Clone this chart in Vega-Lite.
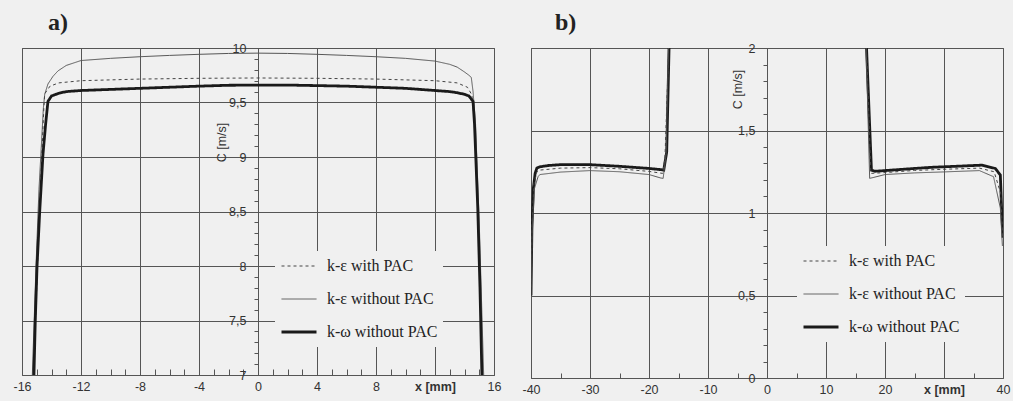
{
  "$schema": "https://vega.github.io/schema/vega-lite/v6.json",
  "background": "#f0f0f0",
  "padding": {"left": 12, "top": 10, "right": 5, "bottom": 5},
  "spacing": 37,
  "bounds": "flush",
  "resolve": {
    "scale": {"color": "independent", "strokeDash": "independent", "strokeWidth": "independent"},
    "legend": {"color": "independent", "strokeDash": "independent", "strokeWidth": "independent"}
  },
  "datasets": {
    "a": [
      {"x": -15.3, "c": 7.0, "m": "k-ε without PAC"}, {"x": -15.05, "c": 8.0, "m": "k-ε without PAC"}, {"x": -14.85, "c": 8.7, "m": "k-ε without PAC"}, {"x": -14.65, "c": 9.2, "m": "k-ε without PAC"}, {"x": -14.55, "c": 9.45, "m": "k-ε without PAC"}, {"x": -14.46, "c": 9.575, "m": "k-ε without PAC"}, {"x": -14.24, "c": 9.67, "m": "k-ε without PAC"}, {"x": -13.9, "c": 9.74, "m": "k-ε without PAC"}, {"x": -13.56, "c": 9.79, "m": "k-ε without PAC"}, {"x": -13, "c": 9.84, "m": "k-ε without PAC"}, {"x": -12, "c": 9.885, "m": "k-ε without PAC"}, {"x": -10, "c": 9.905, "m": "k-ε without PAC"}, {"x": -8, "c": 9.92, "m": "k-ε without PAC"}, {"x": -6, "c": 9.932, "m": "k-ε without PAC"}, {"x": -4, "c": 9.942, "m": "k-ε without PAC"}, {"x": -2, "c": 9.95, "m": "k-ε without PAC"}, {"x": 0, "c": 9.953, "m": "k-ε without PAC"}, {"x": 2, "c": 9.95, "m": "k-ε without PAC"}, {"x": 4, "c": 9.942, "m": "k-ε without PAC"}, {"x": 6, "c": 9.932, "m": "k-ε without PAC"}, {"x": 8, "c": 9.92, "m": "k-ε without PAC"}, {"x": 10, "c": 9.905, "m": "k-ε without PAC"}, {"x": 12, "c": 9.88, "m": "k-ε without PAC"}, {"x": 13, "c": 9.85, "m": "k-ε without PAC"}, {"x": 13.5, "c": 9.825, "m": "k-ε without PAC"}, {"x": 14, "c": 9.78, "m": "k-ε without PAC"}, {"x": 14.3, "c": 9.75, "m": "k-ε without PAC"}, {"x": 14.46, "c": 9.73, "m": "k-ε without PAC"}, {"x": 14.58, "c": 9.6, "m": "k-ε without PAC"}, {"x": 14.75, "c": 9.3, "m": "k-ε without PAC"}, {"x": 15.0, "c": 8.4, "m": "k-ε without PAC"}, {"x": 15.3, "c": 7.0, "m": "k-ε without PAC"},
      {"x": -15.22, "c": 7.0, "m": "k-ε with PAC"}, {"x": -14.95, "c": 8.0, "m": "k-ε with PAC"}, {"x": -14.75, "c": 8.7, "m": "k-ε with PAC"}, {"x": -14.6, "c": 9.2, "m": "k-ε with PAC"}, {"x": -14.52, "c": 9.45, "m": "k-ε with PAC"}, {"x": -14.46, "c": 9.58, "m": "k-ε with PAC"}, {"x": -14.1, "c": 9.65, "m": "k-ε with PAC"}, {"x": -13.5, "c": 9.68, "m": "k-ε with PAC"}, {"x": -12, "c": 9.7, "m": "k-ε with PAC"}, {"x": -8, "c": 9.715, "m": "k-ε with PAC"}, {"x": -4, "c": 9.722, "m": "k-ε with PAC"}, {"x": 0, "c": 9.725, "m": "k-ε with PAC"}, {"x": 4, "c": 9.722, "m": "k-ε with PAC"}, {"x": 8, "c": 9.715, "m": "k-ε with PAC"}, {"x": 12, "c": 9.7, "m": "k-ε with PAC"}, {"x": 13.5, "c": 9.68, "m": "k-ε with PAC"}, {"x": 14.2, "c": 9.64, "m": "k-ε with PAC"}, {"x": 14.5, "c": 9.57, "m": "k-ε with PAC"}, {"x": 14.65, "c": 9.35, "m": "k-ε with PAC"}, {"x": 14.9, "c": 8.6, "m": "k-ε with PAC"}, {"x": 15.2, "c": 7.0, "m": "k-ε with PAC"},
      {"x": -15.19, "c": 7.0, "m": "k-ω without PAC"}, {"x": -15.1, "c": 7.5, "m": "k-ω without PAC"}, {"x": -14.98, "c": 8.0, "m": "k-ω without PAC"}, {"x": -14.8, "c": 8.5, "m": "k-ω without PAC"}, {"x": -14.58, "c": 9.02, "m": "k-ω without PAC"}, {"x": -14.4, "c": 9.3, "m": "k-ω without PAC"}, {"x": -14.24, "c": 9.51, "m": "k-ω without PAC"}, {"x": -14.0, "c": 9.56, "m": "k-ω without PAC"}, {"x": -13.5, "c": 9.585, "m": "k-ω without PAC"}, {"x": -13, "c": 9.6, "m": "k-ω without PAC"}, {"x": -12, "c": 9.61, "m": "k-ω without PAC"}, {"x": -10, "c": 9.62, "m": "k-ω without PAC"}, {"x": -8, "c": 9.63, "m": "k-ω without PAC"}, {"x": -6, "c": 9.64, "m": "k-ω without PAC"}, {"x": -4, "c": 9.65, "m": "k-ω without PAC"}, {"x": -2, "c": 9.658, "m": "k-ω without PAC"}, {"x": 0, "c": 9.66, "m": "k-ω without PAC"}, {"x": 2, "c": 9.66, "m": "k-ω without PAC"}, {"x": 4, "c": 9.655, "m": "k-ω without PAC"}, {"x": 6, "c": 9.65, "m": "k-ω without PAC"}, {"x": 8, "c": 9.64, "m": "k-ω without PAC"}, {"x": 10, "c": 9.63, "m": "k-ω without PAC"}, {"x": 12, "c": 9.61, "m": "k-ω without PAC"}, {"x": 13, "c": 9.6, "m": "k-ω without PAC"}, {"x": 13.5, "c": 9.59, "m": "k-ω without PAC"}, {"x": 14, "c": 9.575, "m": "k-ω without PAC"}, {"x": 14.3, "c": 9.56, "m": "k-ω without PAC"}, {"x": 14.58, "c": 9.51, "m": "k-ω without PAC"}, {"x": 14.68, "c": 9.3, "m": "k-ω without PAC"}, {"x": 14.9, "c": 8.53, "m": "k-ω without PAC"}, {"x": 15.05, "c": 7.8, "m": "k-ω without PAC"}, {"x": 15.18, "c": 7.0, "m": "k-ω without PAC"}
    ],
    "b": [
      {"x": -40, "c": 0.5, "m": "k-ω without PAC", "s": "L"}, {"x": -39.85, "c": 0.9, "m": "k-ω without PAC", "s": "L"}, {"x": -39.6, "c": 1.15, "m": "k-ω without PAC", "s": "L"}, {"x": -39.3, "c": 1.24, "m": "k-ω without PAC", "s": "L"}, {"x": -39.0, "c": 1.273, "m": "k-ω without PAC", "s": "L"}, {"x": -38.5, "c": 1.28, "m": "k-ω without PAC", "s": "L"}, {"x": -37, "c": 1.288, "m": "k-ω without PAC", "s": "L"}, {"x": -35, "c": 1.293, "m": "k-ω without PAC", "s": "L"}, {"x": -30, "c": 1.293, "m": "k-ω without PAC", "s": "L"}, {"x": -25, "c": 1.283, "m": "k-ω without PAC", "s": "L"}, {"x": -20, "c": 1.27, "m": "k-ω without PAC", "s": "L"}, {"x": -17.8, "c": 1.262, "m": "k-ω without PAC", "s": "L"}, {"x": -17.5, "c": 1.26, "m": "k-ω without PAC", "s": "L"}, {"x": -17.0, "c": 1.37, "m": "k-ω without PAC", "s": "L"}, {"x": -16.6, "c": 2.0, "m": "k-ω without PAC", "s": "L"},
      {"x": 16.87, "c": 2.0, "m": "k-ω without PAC", "s": "R"}, {"x": 17.7, "c": 1.26, "m": "k-ω without PAC", "s": "R"}, {"x": 18.3, "c": 1.253, "m": "k-ω without PAC", "s": "R"}, {"x": 20, "c": 1.257, "m": "k-ω without PAC", "s": "R"}, {"x": 25, "c": 1.27, "m": "k-ω without PAC", "s": "R"}, {"x": 28, "c": 1.277, "m": "k-ω without PAC", "s": "R"}, {"x": 32, "c": 1.283, "m": "k-ω without PAC", "s": "R"}, {"x": 36.4, "c": 1.29, "m": "k-ω without PAC", "s": "R"}, {"x": 38.7, "c": 1.27, "m": "k-ω without PAC", "s": "R"}, {"x": 39.55, "c": 1.23, "m": "k-ω without PAC", "s": "R"}, {"x": 39.8, "c": 0.99, "m": "k-ω without PAC", "s": "R"}, {"x": 40, "c": 0.85, "m": "k-ω without PAC", "s": "R"},
      {"x": -40, "c": 0.5, "m": "k-ε without PAC", "s": "L"}, {"x": -39.8, "c": 0.9, "m": "k-ε without PAC", "s": "L"}, {"x": -39.4, "c": 1.15, "m": "k-ε without PAC", "s": "L"}, {"x": -38.8, "c": 1.22, "m": "k-ε without PAC", "s": "L"}, {"x": -38.5, "c": 1.233, "m": "k-ε without PAC", "s": "L"}, {"x": -35, "c": 1.248, "m": "k-ε without PAC", "s": "L"}, {"x": -30, "c": 1.257, "m": "k-ε without PAC", "s": "L"}, {"x": -25, "c": 1.25, "m": "k-ε without PAC", "s": "L"}, {"x": -20, "c": 1.233, "m": "k-ε without PAC", "s": "L"}, {"x": -18, "c": 1.212, "m": "k-ε without PAC", "s": "L"}, {"x": -17.6, "c": 1.21, "m": "k-ε without PAC", "s": "L"}, {"x": -17.1, "c": 1.36, "m": "k-ε without PAC", "s": "L"}, {"x": -16.7, "c": 2.0, "m": "k-ε without PAC", "s": "L"},
      {"x": 16.8, "c": 2.0, "m": "k-ε without PAC", "s": "R"}, {"x": 17.4, "c": 1.21, "m": "k-ε without PAC", "s": "R"}, {"x": 18, "c": 1.215, "m": "k-ε without PAC", "s": "R"}, {"x": 20, "c": 1.233, "m": "k-ε without PAC", "s": "R"}, {"x": 25, "c": 1.243, "m": "k-ε without PAC", "s": "R"}, {"x": 30, "c": 1.249, "m": "k-ε without PAC", "s": "R"}, {"x": 36, "c": 1.257, "m": "k-ε without PAC", "s": "R"}, {"x": 38.4, "c": 1.22, "m": "k-ε without PAC", "s": "R"}, {"x": 39.55, "c": 1.03, "m": "k-ε without PAC", "s": "R"}, {"x": 39.9, "c": 0.8, "m": "k-ε without PAC", "s": "R"},
      {"x": -40, "c": 0.55, "m": "k-ε with PAC", "s": "L"}, {"x": -39.8, "c": 0.95, "m": "k-ε with PAC", "s": "L"}, {"x": -39.5, "c": 1.18, "m": "k-ε with PAC", "s": "L"}, {"x": -39, "c": 1.25, "m": "k-ε with PAC", "s": "L"}, {"x": -38.5, "c": 1.26, "m": "k-ε with PAC", "s": "L"}, {"x": -35, "c": 1.272, "m": "k-ε with PAC", "s": "L"}, {"x": -30, "c": 1.275, "m": "k-ε with PAC", "s": "L"}, {"x": -25, "c": 1.268, "m": "k-ε with PAC", "s": "L"}, {"x": -20, "c": 1.252, "m": "k-ε with PAC", "s": "L"}, {"x": -17.7, "c": 1.24, "m": "k-ε with PAC", "s": "L"}, {"x": -17.3, "c": 1.33, "m": "k-ε with PAC", "s": "L"}, {"x": -16.65, "c": 2.0, "m": "k-ε with PAC", "s": "L"},
      {"x": 16.85, "c": 2.0, "m": "k-ε with PAC", "s": "R"}, {"x": 17.6, "c": 1.24, "m": "k-ε with PAC", "s": "R"}, {"x": 20, "c": 1.245, "m": "k-ε with PAC", "s": "R"}, {"x": 25, "c": 1.258, "m": "k-ε with PAC", "s": "R"}, {"x": 30, "c": 1.265, "m": "k-ε with PAC", "s": "R"}, {"x": 36, "c": 1.272, "m": "k-ε with PAC", "s": "R"}, {"x": 38.5, "c": 1.25, "m": "k-ε with PAC", "s": "R"}, {"x": 39.6, "c": 1.12, "m": "k-ε with PAC", "s": "R"}, {"x": 39.95, "c": 0.85, "m": "k-ε with PAC", "s": "R"}
    ]
  },
  "config": {
    "view": {"stroke": "#555555", "strokeWidth": 1, "fill": "#f0f0f0"},
    "axis": {
      "labelFont": "Liberation Sans", "labelFontSize": 12.5, "labelColor": "#333333",
      "titleFont": "Liberation Sans", "titleFontSize": 12.5, "titleFontWeight": "normal", "titleColor": "#333333",
      "gridColor": "#555555", "gridOpacity": 1, "gridWidth": 1,
      "domainColor": "#555555", "tickColor": "#555555"
    },
    "legend": {
      "labelFont": "Liberation Serif", "labelFontSize": 16, "labelColor": "#222222",
      "symbolType": "stroke", "symbolSize": 1225, "labelOffset": 9, "rowPadding": 13, "clipHeight": 20,
      "fillColor": "#f0f0f0", "padding": 5, "direction": "vertical"
    },
    "title": {"font": "Liberation Serif", "fontSize": 24, "fontWeight": "bold", "anchor": "start", "color": "#222222"}
  },
  "hconcat": [
    {
      "title": {"text": "a)", "dx": 35, "offset": 7},
      "width": 472, "height": 327,
      "data": {"name": "a"},
      "layer": [
        {
          "mark": {"type": "line", "clip": true},
          "encoding": {
            "x": {"field": "x", "type": "quantitative", "scale": {"domain": [-16, 16], "nice": false, "zero": false},
              "axis": {"values": [-16, -12, -8, -4, 0, 4, 8, 12, 16], "title": null, "grid": true, "ticks": false, "domain": false, "labelPadding": 5, "labelFlush": false,
                "labelExpr": "datum.value == 12 ? 'x [mm]' : '' + datum.value",
                "labelFontWeight": {"condition": {"test": "datum.value == 12", "value": "bold"}, "value": "normal"}}},
            "y": {"field": "c", "type": "quantitative", "scale": {"domain": [7, 10], "nice": false, "zero": false},
              "axis": {"values": [7, 7.5, 8, 8.5, 9, 9.5, 10], "title": "C [m/s]", "offset": -236, "grid": true, "ticks": false, "labelPadding": 12,
                "labelExpr": "replace('' + datum.value, '.', ',')", "titleX": -37, "titleY": 94, "titleBaseline": "middle", "titleAlign": "center"}},
            "color": {"field": "m", "type": "nominal", "scale": {"domain": ["k-ε with PAC", "k-ε without PAC", "k-ω without PAC"], "range": ["#444444", "#555555", "#1a1a1a"]},
              "legend": {"title": null, "orient": "none", "legendX": 253, "legendY": 203}},
            "strokeDash": {"field": "m", "type": "nominal", "scale": {"domain": ["k-ε with PAC", "k-ε without PAC", "k-ω without PAC"], "range": [[3, 3], [1, 0], [1, 0]]},
              "legend": {"title": null, "orient": "none", "legendX": 253, "legendY": 203}},
            "strokeWidth": {"field": "m", "type": "nominal", "scale": {"type": "ordinal", "domain": ["k-ε with PAC", "k-ε without PAC", "k-ω without PAC"], "range": [1, 1, 2.8]},
              "legend": {"title": null, "orient": "none", "legendX": 253, "legendY": 203}}
          }
        },
        {
          "mark": {"type": "line", "opacity": 0},
          "encoding": {
            "x": {"field": "x", "type": "quantitative",
              "axis": {"orient": "bottom", "values": [-15, -14, -13, -11, -10, -9, -7, -6, -5, -3, -2, -1, 1, 2, 3, 5, 6, 7, 9, 10, 11, 13, 14, 15], "labels": false, "grid": false, "domain": false, "tickSize": -6, "title": null}},
            "y": {"field": "c", "type": "quantitative",
              "axis": {"orient": "left", "offset": -236, "values": [7.1, 7.2, 7.3, 7.4, 7.6, 7.7, 7.8, 7.9, 8.1, 8.2, 8.3, 8.4, 8.6, 8.7, 8.8, 8.9, 9.1, 9.2, 9.3, 9.4, 9.6, 9.7, 9.8, 9.9], "labels": false, "grid": false, "domain": false, "tickSize": 4, "title": null}},
            "detail": {"field": "m"}
          }
        }
      ],
      "resolve": {"axis": {"x": "independent", "y": "independent"}}
    },
    {
      "title": {"text": "b)", "dx": 33, "offset": 7},
      "width": 472, "height": 330,
      "data": {"name": "b"},
      "layer": [
        {
          "mark": {"type": "line", "clip": true},
          "encoding": {
            "x": {"field": "x", "type": "quantitative", "scale": {"domain": [-40, 40], "nice": false, "zero": false},
              "axis": {"values": [-40, -30, -20, -10, 0, 10, 20, 30, 40], "title": null, "grid": true, "ticks": false, "domain": false, "labelPadding": 5, "labelFlush": false,
                "labelExpr": "datum.value == 30 ? 'x [mm]' : '' + datum.value",
                "labelFontWeight": {"condition": {"test": "datum.value == 30", "value": "bold"}, "value": "normal"}}},
            "y": {"field": "c", "type": "quantitative", "scale": {"domain": [0, 2], "nice": false, "zero": false},
              "axis": {"values": [0, 0.5, 1, 1.5, 2], "title": "C [m/s]", "offset": -236, "grid": true, "ticks": false, "labelPadding": 12,
                "labelExpr": "replace('' + datum.value, '.', ',')", "titleX": -30, "titleY": 41, "titleBaseline": "middle", "titleAlign": "center"}},
            "color": {"field": "m", "type": "nominal", "scale": {"domain": ["k-ε with PAC", "k-ε without PAC", "k-ω without PAC"], "range": ["#444444", "#555555", "#1a1a1a"]},
              "legend": {"title": null, "orient": "none", "legendX": 266, "legendY": 198}},
            "strokeDash": {"field": "m", "type": "nominal", "scale": {"domain": ["k-ε with PAC", "k-ε without PAC", "k-ω without PAC"], "range": [[3, 3], [1, 0], [1, 0]]},
              "legend": {"title": null, "orient": "none", "legendX": 266, "legendY": 198}},
            "strokeWidth": {"field": "m", "type": "nominal", "scale": {"type": "ordinal", "domain": ["k-ε with PAC", "k-ε without PAC", "k-ω without PAC"], "range": [1, 1, 2.8]},
              "legend": {"title": null, "orient": "none", "legendX": 266, "legendY": 198}},
            "detail": {"field": "s"}
          }
        },
        {
          "mark": {"type": "line", "opacity": 0},
          "encoding": {
            "x": {"field": "x", "type": "quantitative",
              "axis": {"orient": "bottom", "values": [-35, -25, -15, -5, 5, 15, 25, 35], "labels": false, "grid": false, "domain": false, "tickSize": -5, "title": null}},
            "y": {"field": "c", "type": "quantitative",
              "axis": {"orient": "left", "offset": -236, "values": [0.1, 0.2, 0.3, 0.4, 0.6, 0.7, 0.8, 0.9, 1.1, 1.2, 1.3, 1.4, 1.6, 1.7, 1.8, 1.9], "labels": false, "grid": false, "domain": false, "tickSize": 4, "title": null}},
            "detail": {"field": "m"}
          }
        }
      ],
      "resolve": {"axis": {"x": "independent", "y": "independent"}}
    }
  ]
}
